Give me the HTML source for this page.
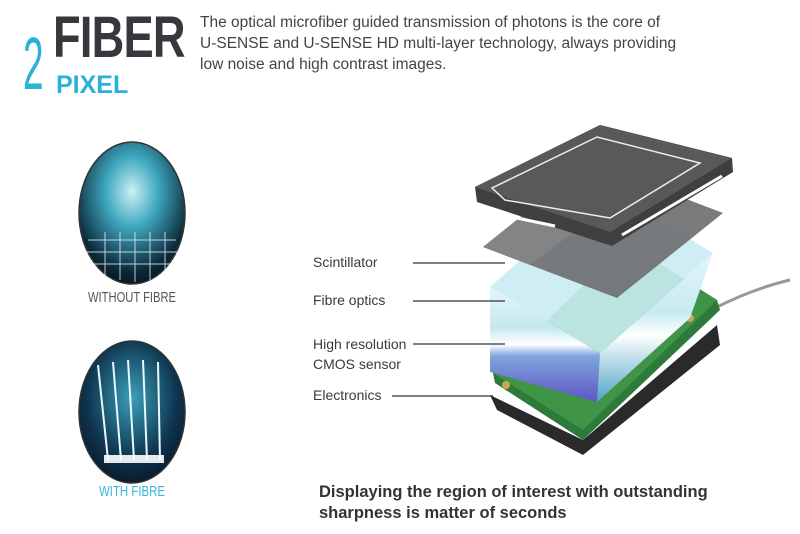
<!DOCTYPE html>
<html><head><style>
body{margin:0;width:800px;height:534px;background:#fff;position:relative;overflow:hidden;font-family:"Liberation Sans",sans-serif}
.t{position:absolute;color:#3a3a3a}
</style></head><body>
<div class="t" style="left:53px;top:8px;font-size:58px;font-weight:bold;color:#35383c;letter-spacing:-1px;transform:scaleX(0.78);transform-origin:left top;line-height:60px">FIBER</div>
<div class="t" style="left:23px;top:26px;font-size:74px;color:#29b1d6;line-height:76px;transform:scaleX(0.5);transform-origin:left top">2</div>
<div class="t" style="left:56px;top:72px;font-size:25px;font-weight:bold;color:#29b1d6;line-height:26px">PIXEL</div>
<div class="t" style="left:200px;top:12px;font-size:15.5px;line-height:21px;color:#444">The optical microfiber guided transmission of photons is the core of<br>U-SENSE and U-SENSE HD multi-layer technology, always providing<br>low noise and high contrast images.</div>
<svg width="800" height="534" style="position:absolute;left:0;top:0">
<defs>
<radialGradient id="g1" cx="0.5" cy="0.35" r="0.7"><stop offset="0" stop-color="#cfeff5"/><stop offset="0.35" stop-color="#3fa9c0"/><stop offset="0.8" stop-color="#0b2a3a"/><stop offset="1" stop-color="#050d18"/></radialGradient>
<radialGradient id="g2" cx="0.5" cy="0.4" r="0.7"><stop offset="0" stop-color="#3aa0b8"/><stop offset="0.6" stop-color="#0f3550"/><stop offset="1" stop-color="#060e1a"/></radialGradient>
<linearGradient id="side" x1="0" y1="0" x2="0" y2="1"><stop offset="0" stop-color="#e6f6f9"/><stop offset="0.35" stop-color="#c4e8ef"/><stop offset="0.5" stop-color="#ffffff"/><stop offset="0.6" stop-color="#7fa6dc"/><stop offset="1" stop-color="#5d55c4"/></linearGradient>
<linearGradient id="side2" x1="0" y1="0" x2="0" y2="1"><stop offset="0" stop-color="#e6f6f9"/><stop offset="0.4" stop-color="#c6eaf1"/><stop offset="0.55" stop-color="#ffffff"/><stop offset="1" stop-color="#4fa3c4"/></linearGradient>
</defs>
<ellipse cx="132" cy="213" rx="53" ry="71" fill="url(#g1)" stroke="#333" stroke-width="1.5"/>
<g stroke="#eef" stroke-width="1" opacity="0.8"><line x1="88" y1="240" x2="176" y2="240"/><line x1="85" y1="252" x2="179" y2="252"/><line x1="90" y1="264" x2="174" y2="264"/><line x1="105" y1="232" x2="105" y2="275"/><line x1="120" y1="232" x2="120" y2="280"/><line x1="135" y1="232" x2="135" y2="282"/><line x1="150" y1="232" x2="150" y2="280"/><line x1="165" y1="232" x2="165" y2="275"/></g>
<ellipse cx="132" cy="412" rx="53" ry="71" fill="url(#g2)" stroke="#333" stroke-width="1.5"/>
<g stroke="#e8f8ff" stroke-width="2"><line x1="98" y1="365" x2="108" y2="460"/><line x1="113" y1="362" x2="121" y2="460"/><line x1="128" y1="360" x2="134" y2="460"/><line x1="143" y1="360" x2="147" y2="460"/><line x1="158" y1="362" x2="160" y2="460"/></g>
<rect x="104" y="455" width="60" height="8" fill="#fff" opacity="0.9"/>
<text x="132" y="302" text-anchor="middle" font-size="15" fill="#555" textLength="88" lengthAdjust="spacingAndGlyphs">WITHOUT FIBRE</text>
<text x="132" y="496" text-anchor="middle" font-size="15" fill="#3ab7d6" textLength="66" lengthAdjust="spacingAndGlyphs">WITH FIBRE</text>
<path d="M715 308 Q755 288 790 280" stroke="#999" stroke-width="3" fill="none"/>
<!-- base -->
<polygon points="490,395 497,410 583,455 720,345 717,325 583,440" fill="#2a2a2a"/>
<!-- pcb -->
<polygon points="493,373 627,243 717,300 720,310 583,440 495,383" fill="#2d7a3a"/>
<polygon points="493,373 627,243 717,300 583,430" fill="#3f9448"/>
<g fill="#c9a84a"><circle cx="506" cy="385" r="4"/><circle cx="690" cy="318" r="4"/></g>
<!-- fibre + cmos block -->
<polygon points="490,287 490,372 597,402 600,353" fill="url(#side)"/>
<polygon points="600,353 597,402 690,318 713,253" fill="url(#side2)"/>
<polygon points="490,287 603,187 713,253 600,353" fill="#c9ecf2" opacity="0.9"/>
<!-- scintillator -->
<polygon points="483,247 589,162 723,213 617,298" fill="#6f7072" opacity="0.92"/>
<polygon points="483,247 589,162 640,182 530,265" fill="#8a8b8d" opacity="0.6"/>
<!-- case -->
<polygon points="475,187 600,125 732,158 733,172 612,246 477,202" fill="#3e3f41"/>
<polygon points="475,187 600,125 732,158 610,232" fill="#58595b"/>
<polygon points="492,188 597,137 700,163 610,218 505,200" fill="none" stroke="#eee" stroke-width="1.5"/>
<line x1="488" y1="212" x2="555" y2="226" stroke="#fff" stroke-width="3"/>
<line x1="622" y1="235" x2="722" y2="176" stroke="#fff" stroke-width="3"/>
<g stroke="#333" stroke-width="1.2"><line x1="413" y1="263" x2="505" y2="263"/><line x1="413" y1="301" x2="505" y2="301"/><line x1="413" y1="344" x2="505" y2="344"/><line x1="392" y1="396" x2="493" y2="396"/></g>
</svg>
<div class="t" style="left:313px;top:254px;font-size:14px">Scintillator</div>
<div class="t" style="left:313px;top:292px;font-size:14px">Fibre optics</div>
<div class="t" style="left:313px;top:334px;font-size:14px;line-height:20px">High resolution<br>CMOS sensor</div>
<div class="t" style="left:313px;top:387px;font-size:14px">Electronics</div>
<div class="t" style="left:319px;top:482px;font-size:16.5px;font-weight:bold;line-height:21px;color:#333">Displaying the region of interest with outstanding<br>sharpness is matter of seconds</div>
</body></html>
